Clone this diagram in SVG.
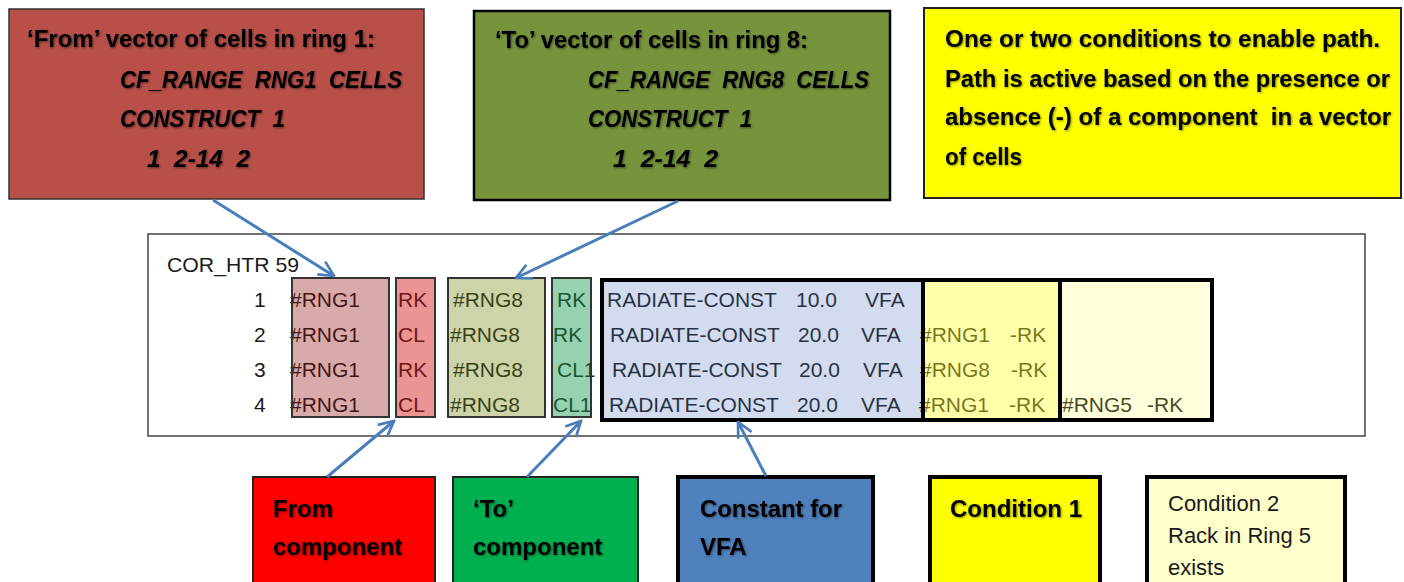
<svg xmlns="http://www.w3.org/2000/svg" width="1404" height="582" viewBox="0 0 1404 582">
<defs>
<style>
.b{font-family:"Liberation Sans",Arial,sans-serif;font-weight:bold;font-size:24px;fill:#000}
.bi{font-family:"Liberation Sans",Arial,sans-serif;font-weight:bold;font-style:italic;font-size:24px;fill:#000}
.r{font-family:"Liberation Sans",Arial,sans-serif;font-size:21px;fill:#1a1a1a}
.c2{font-family:"Liberation Sans",Arial,sans-serif;font-size:22px;fill:#1a1a1a}
.conn{stroke:#4a7ebb;stroke-width:3;fill:none;marker-end:url(#ah)}
.cell{stroke:#333;stroke-width:2}
.thick{stroke:#000;stroke-width:4}
</style>
<marker id="ah" viewBox="0 0 12 12" refX="11" refY="6" markerWidth="6" markerHeight="6" orient="auto" markerUnits="strokeWidth">
<path d="M1,1 L11,6 L1,11" fill="none" stroke="#4a7ebb" stroke-width="1.8"/>
</marker>
<filter id="sh" x="-5%" y="-20%" width="110%" height="140%">
<feDropShadow dx="1" dy="1" stdDeviation="0.8" flood-color="#000" flood-opacity="0.45"/>
</filter>
</defs>
<rect width="1404" height="582" fill="#fff"/>

<g id="from-vector">
<rect x="9" y="9" width="415" height="190" fill="#b84f49" stroke="#333" stroke-width="1.5"/>
<g filter="url(#sh)">
<text class="b" x="27" y="47" textLength="348" lengthAdjust="spacingAndGlyphs">‘From’ vector of cells in ring 1:</text>
<text class="bi" x="120" y="88" textLength="282" lengthAdjust="spacingAndGlyphs" xml:space="preserve">CF_RANGE  RNG1  CELLS</text>
<text class="bi" x="120" y="127" textLength="165" lengthAdjust="spacingAndGlyphs" xml:space="preserve">CONSTRUCT  1</text>
<text class="bi" x="147" y="167" textLength="103" lengthAdjust="spacingAndGlyphs" xml:space="preserve">1  2-14  2</text>
</g>
</g>

<g id="to-vector">
<rect x="474" y="11" width="416" height="189" fill="#77933c" stroke="#000" stroke-width="2.5"/>
<g filter="url(#sh)">
<text class="b" x="495" y="48" textLength="313" lengthAdjust="spacingAndGlyphs">‘To’ vector of cells in ring 8:</text>
<text class="bi" x="588" y="88" textLength="281" lengthAdjust="spacingAndGlyphs" xml:space="preserve">CF_RANGE  RNG8  CELLS</text>
<text class="bi" x="588" y="127" textLength="164" lengthAdjust="spacingAndGlyphs" xml:space="preserve">CONSTRUCT  1</text>
<text class="bi" x="613" y="167" textLength="105" lengthAdjust="spacingAndGlyphs" xml:space="preserve">1  2-14  2</text>
</g>
</g>

<g id="conditions-note">
<rect x="924" y="8" width="477" height="190" fill="#ffff00" stroke="#222" stroke-width="2"/>
<g filter="url(#sh)">
<text class="b" x="945" y="47" textLength="435" lengthAdjust="spacingAndGlyphs">One or two conditions to enable  path.</text>
<text class="b" x="945" y="87" textLength="445" lengthAdjust="spacingAndGlyphs">Path is active based on the presence or</text>
<text class="b" x="945" y="125" textLength="446" lengthAdjust="spacingAndGlyphs" xml:space="preserve">absence (-) of a component  in a vector</text>
<text class="b" x="945" y="165" textLength="77" lengthAdjust="spacingAndGlyphs">of cells</text>
</g>
</g>

<g id="cor-htr-table">
<rect x="148" y="234" width="1217" height="202" fill="#fff" stroke="#444" stroke-width="1.5"/>
<text class="r" x="167" y="272" textLength="132" lengthAdjust="spacingAndGlyphs">COR_HTR 59</text>
<text class="r" x="254" y="307">1</text>
<text class="r" x="254" y="342">2</text>
<text class="r" x="254" y="377">3</text>
<text class="r" x="254" y="412">4</text>
<g id="col-from-vector">
<text class="r" x="290" y="307">#RNG1</text>
<text class="r" x="290" y="342">#RNG1</text>
<text class="r" x="290" y="377">#RNG1</text>
<text class="r" x="290" y="412">#RNG1</text>
<rect x="292" y="278" width="97" height="139" fill="#920c0c" fill-opacity="0.35" class="cell"/>
</g>
<g id="col-from-comp">
<text class="r" x="398" y="307">RK</text>
<text class="r" x="398" y="342">CL</text>
<text class="r" x="398" y="377">RK</text>
<text class="r" x="398" y="412">CL</text>
<rect x="396" y="278" width="39" height="139" fill="#d01111" fill-opacity="0.45" class="cell"/>
</g>
<g id="col-to-vector">
<text class="r" x="453" y="307">#RNG8</text>
<text class="r" x="450" y="342">#RNG8</text>
<text class="r" x="453" y="377">#RNG8</text>
<text class="r" x="450" y="412">#RNG8</text>
<rect x="448" y="278" width="97" height="139" fill="#70840c" fill-opacity="0.35" class="cell"/>
</g>
<g id="col-to-comp">
<text class="r" x="557" y="307">RK</text>
<text class="r" x="553" y="342">RK</text>
<text class="r" x="557" y="377">CL1</text>
<text class="r" x="553" y="412">CL1</text>
<rect x="552" y="278" width="39" height="139" fill="#169b4d" fill-opacity="0.45" class="cell"/>
</g>
<g id="col-const">
<text class="r" x="607" y="307">RADIATE-CONST</text><text class="r" x="796" y="307">10.0</text><text class="r" x="865" y="307">VFA</text>
<text class="r" x="610" y="342">RADIATE-CONST</text><text class="r" x="798" y="342">20.0</text><text class="r" x="861" y="342">VFA</text>
<text class="r" x="612" y="377">RADIATE-CONST</text><text class="r" x="799" y="377">20.0</text><text class="r" x="863" y="377">VFA</text>
<text class="r" x="609" y="412">RADIATE-CONST</text><text class="r" x="797" y="412">20.0</text><text class="r" x="861" y="412">VFA</text>
<rect x="602" y="280" width="321" height="140" fill="#4b73bb" fill-opacity="0.25" class="thick"/>
</g>
<g id="col-cond1">
<text class="r" x="920" y="342">#RNG1</text><text class="r" x="1010" y="342">-RK</text>
<text class="r" x="920" y="377">#RNG8</text><text class="r" x="1011" y="377">-RK</text>
<text class="r" x="919" y="412">#RNG1</text><text class="r" x="1009" y="412">-RK</text>
<rect x="923" y="280" width="137" height="140" fill="#ffff2a" fill-opacity="0.4" class="thick"/>
</g>
<g id="col-cond2">
<text class="r" x="1062" y="412">#RNG5</text><text class="r" x="1147" y="412">-RK</text>
<rect x="1060" y="280" width="152" height="140" fill="#ffff50" fill-opacity="0.2" class="thick"/>
</g>
</g>

<g id="from-component">
<rect x="253" y="477" width="182" height="120" fill="#ff0000" stroke="#222" stroke-width="2"/>
<g filter="url(#sh)">
<text class="b" x="273" y="517">From</text>
<text class="b" x="273" y="555">component</text>
</g>
</g>

<g id="to-component">
<rect x="453" y="477" width="185" height="120" fill="#00b050" stroke="#222" stroke-width="2"/>
<g filter="url(#sh)">
<text class="b" x="473" y="517">‘To’</text>
<text class="b" x="473" y="555">component</text>
</g>
</g>

<g id="constant-vfa">
<rect x="678" y="477" width="195" height="120" fill="#4f81bd" stroke="#000" stroke-width="4"/>
<g filter="url(#sh)">
<text class="b" x="700" y="517" textLength="142" lengthAdjust="spacingAndGlyphs">Constant for</text>
<text class="b" x="700" y="555">VFA</text>
</g>
</g>

<g id="condition-1">
<rect x="930" y="477" width="170" height="120" fill="#ffff00" stroke="#000" stroke-width="4"/>
<g filter="url(#sh)">
<text class="b" x="950" y="517">Condition 1</text>
</g>
</g>

<g id="condition-2">
<rect x="1147" y="477" width="198" height="120" fill="#ffffcc" stroke="#000" stroke-width="4"/>
<text class="c2" x="1168" y="511">Condition 2</text>
<text class="c2" x="1168" y="543">Rack in Ring 5</text>
<text class="c2" x="1168" y="575">exists</text>
</g>

<g id="connectors">
<line class="conn" x1="213" y1="200" x2="334" y2="276"/>
<line class="conn" x1="678" y1="201" x2="516" y2="278"/>
<line class="conn" x1="327" y1="477" x2="394" y2="421"/>
<line class="conn" x1="527" y1="477" x2="581" y2="421"/>
<line class="conn" x1="766" y1="476" x2="738" y2="422"/>
</g>
</svg>
